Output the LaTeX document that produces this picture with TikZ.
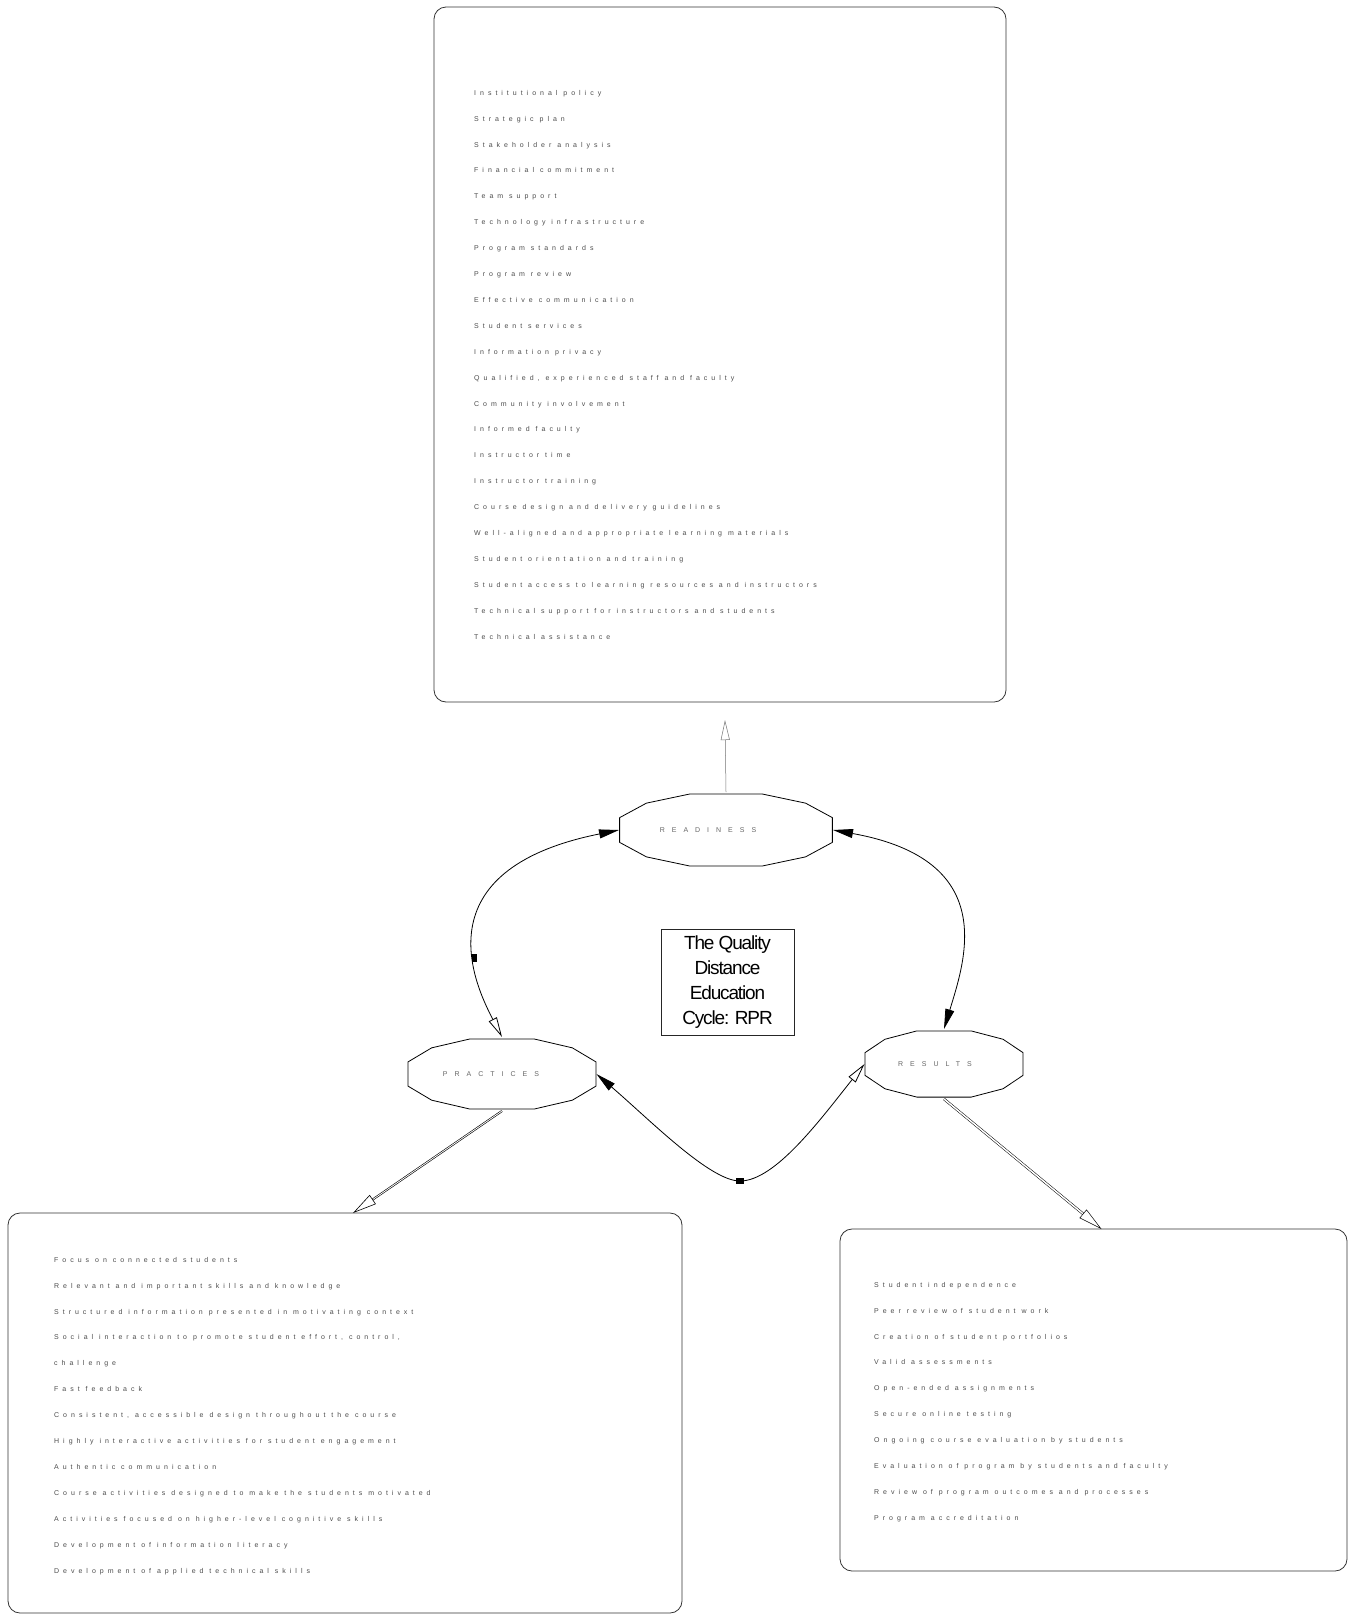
\documentclass[tikz,border=0pt]{standalone}
\usepackage{fontspec}
\setmainfont{Liberation Sans}
\usetikzlibrary{arrows.meta,shapes.geometric,calc}
\begin{document}
\begin{tikzpicture}[x=1pt,y=-1pt,
  panel/.style={draw=black!80, line width=0.8pt, rounded corners=12pt, inner sep=0pt, outer sep=0pt},
  listtext/.style={anchor=north west, align=left, inner sep=0pt, text=black!70,
    font=\fontsize{7}{25.9}\selectfont\addfontfeature{LetterSpace=57}},
  oval/.style={ellipse, draw=none, inner sep=0pt, outer sep=0pt, text=black!60,
    font=\fontsize{7}{8}\selectfont\addfontfeature{LetterSpace=100}},
  ovaledge/.style={draw=black, line width=0.8pt, line join=round},
  titlebox/.style={draw=black!85, line width=0.6pt, align=center, inner sep=0pt, outer sep=0pt,
    font=\fontsize{19}{25}\selectfont\addfontfeature{LetterSpace=-6}},
  conn/.style={line width=0.8pt, black},
  blob/.style={fill=black, inner sep=0pt, outer sep=0pt}
]
\useasboundingbox (0,0) rectangle (1356,1617);

% boxes
\node[panel, minimum width=572pt, minimum height=695pt] (rbox) at (720,354.5) {};
\node[panel, minimum width=674pt, minimum height=400pt] (lbox) at (345,1413) {};
\node[panel, minimum width=507pt, minimum height=342pt] (sbox) at (1093.5,1400) {};

\node[listtext] (rtext) at (474,90) {Institutional policy\\
Strategic plan\\
Stakeholder analysis\\
Financial commitment\\
Team support\\
Technology infrastructure\\
Program standards\\
Program review\\
Effective communication\\
Student services\\
Information privacy\\
Qualified, experienced staff and faculty\\
Community involvement\\
Informed faculty\\
Instructor time\\
Instructor training\\
Course design and delivery guidelines\\
Well-aligned and appropriate learning materials\\
Student orientation and training\\
Student access to learning resources and instructors\\
Technical support for instructors and students\\
Technical assistance};

\node[listtext] (ltext) at (54,1257) {Focus on connected students\\
Relevant and important skills and knowledge\\
Structured information presented in motivating context\\
Social interaction to promote student effort, control,\\
challenge\\
Fast feedback\\
Consistent, accessible design throughout the course\\
Highly interactive activities for student engagement\\
Authentic communication\\
Course activities designed to make the students motivated\\
Activities focused on higher-level cognitive skills\\
Development of information literacy\\
Development of applied technical skills};

\node[listtext] (stext) at (874,1282) {Student independence\\
Peer review of student work\\
Creation of student portfolios\\
Valid assessments\\
Open-ended assignments\\
Secure online testing\\
Ongoing course evaluation by students\\
Evaluation of program by students and faculty\\
Review of program outcomes and processes\\
Program accreditation};

% ovals
\node[oval, minimum width=214pt, minimum height=76pt] (ready) at (726,830) {READINESS\hspace*{36pt}};
\node[oval, minimum width=189pt, minimum height=74pt] (prac) at (502,1074) {PRACTICES\hspace*{22pt}};
\node[oval, minimum width=159pt, minimum height=70pt] (res) at (944,1064) {RESULTS\hspace*{18pt}};
\foreach \n/\a/\b in {ready/112.5/38, prac/99.5/37, res/83.5/35}{
  \draw[ovaledge, shift={(\n.center)}]
    plot[samples at={19,45,71,109,135,161,199,225,251,289,315,341}] ({\a*cos(\x)},{\b*sin(\x)}) -- cycle;
}

% centre title
\node[titlebox, minimum width=133pt, minimum height=106pt] (title) at (727.5,982)
  {The Quality\\Distance\\Education\\Cycle: RPR};

% connectors
\coordinate (toptip) at (725,720);
\draw[line width=0.5pt, black!55, -{Triangle[open,length=20pt,width=9pt]}] (ready.north) -- (toptip);

\draw[conn, {Triangle[open,length=20pt,width=9pt]}-{Triangle[length=20pt,width=9pt]}]
  (prac.north) .. controls (475,985) and (420,870) .. (ready.west);
\node[blob, minimum width=5pt, minimum height=8pt] (lsq) at (474,958) {};

\draw[conn, {Triangle[length=20pt,width=9pt]}-{Triangle[length=20pt,width=9pt]}]
  (ready.east) .. controls (1000,860) and (965,960) .. (res.north);

\coordinate (dip) at (740,1181);
\draw[conn, {Triangle[open,length=20pt,width=9pt]}-{Triangle[length=20pt,width=9pt]}]
  (res.west) .. controls (820,1120) and (775,1181) .. (dip)
  .. controls (710,1181) and (650,1120) .. (prac.east);
\node[blob, minimum width=8pt, minimum height=6pt] (bsq) at (dip) {};

\draw[line width=0.6pt, double, double distance=0.8pt, -{Triangle[open,length=24pt,width=11pt]}]
  (prac.south) -- ($(lbox.north)+(8,0)$);
\draw[line width=0.5pt, double, double distance=1.5pt, -{Triangle[open,length=24pt,width=11pt]}]
  (res.south) -- ($(sbox.north)+(8,0)$);
\end{tikzpicture}
\end{document}
